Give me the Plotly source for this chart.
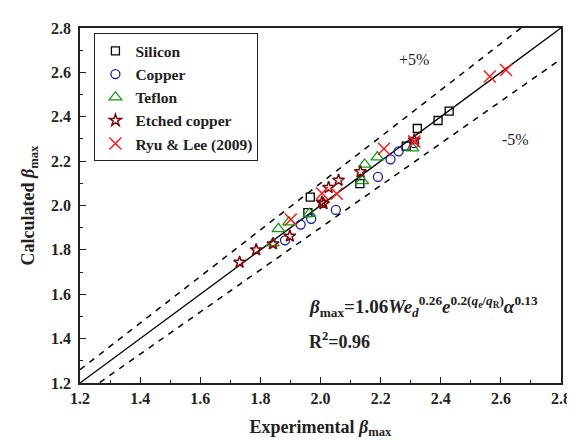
import plotly.graph_objects as go

# Data
silicon_x = [1.966, 1.958, 2.131, 2.285, 2.322, 2.391, 2.428]
silicon_y = [2.038, 1.968, 2.099, 2.268, 2.347, 2.383, 2.425]

copper_x = [1.882, 1.934, 1.969, 2.051, 2.191, 2.233, 2.260, 2.312]
copper_y = [1.843, 1.914, 1.940, 1.980, 2.129, 2.208, 2.244, 2.281]

teflon_x = [1.842, 1.860, 1.895, 1.963, 2.139, 2.147, 2.189, 2.306]
teflon_y = [1.830, 1.895, 1.925, 1.963, 2.111, 2.185, 2.218, 2.259]

etched_x = [1.731, 1.786, 1.842, 1.898, 2.005, 2.010, 2.027, 2.060, 2.133, 2.312]
etched_y = [1.744, 1.800, 1.827, 1.862, 2.015, 2.008, 2.081, 2.114, 2.152, 2.295]

ryu_x = [1.901, 2.005, 2.054, 2.211, 2.312, 2.563, 2.617]
ryu_y = [1.937, 2.055, 2.053, 2.256, 2.289, 2.581, 2.611]

line_x = [1.2, 2.8]
plus_factor = 1.05
minus_factor = 0.95

FONT = "Liberation Serif"
INK = "#222"

fig = go.Figure()

# reference lines
fig.add_trace(go.Scatter(x=line_x, y=line_x, mode="lines",
                         line=dict(color="black", width=1.3), showlegend=False, hoverinfo="skip"))
fig.add_trace(go.Scatter(x=line_x, y=[v * plus_factor for v in line_x], mode="lines",
                         line=dict(color="black", width=1.5, dash="6px,6px"), showlegend=False, hoverinfo="skip"))
fig.add_trace(go.Scatter(x=line_x, y=[v * minus_factor for v in line_x], mode="lines",
                         line=dict(color="black", width=1.5, dash="6px,6px"), showlegend=False, hoverinfo="skip"))

fig.add_trace(go.Scatter(x=silicon_x, y=silicon_y, mode="markers", name="Silicon",
                         marker=dict(symbol="square-open", size=8, color="black", line=dict(width=1.3))))
fig.add_trace(go.Scatter(x=copper_x, y=copper_y, mode="markers", name="Copper",
                         marker=dict(symbol="circle-open", size=9, color="#1c1ca0", line=dict(width=1.3))))
fig.add_trace(go.Scatter(x=teflon_x, y=teflon_y, mode="markers", name="Teflon",
                         marker=dict(symbol="triangle-up-open", size=11, color="#119a11", line=dict(width=1.3))))
fig.add_trace(go.Scatter(x=etched_x, y=etched_y, mode="markers", name="Etched copper",
                         marker=dict(symbol="star-open", size=9, color="#7a0a0a", line=dict(width=1.5))))
fig.add_trace(go.Scatter(x=ryu_x, y=ryu_y, mode="markers", name="Ryu &amp; Lee (2009)",
                         marker=dict(symbol="x-thin-open", size=12, color="#ff1a1a", line=dict(width=1.5, color="#ff1a1a"))))

axis_common = dict(
    range=[1.2, 2.8], dtick=0.2, tick0=1.2, tickformat=".1f",
    showgrid=False, zeroline=False,
    showline=True, linecolor=INK, linewidth=1.5, mirror=True,
    ticks="inside", ticklen=6, tickwidth=1.2, tickcolor=INK,
    minor=dict(ticks="inside", ticklen=3, dtick=0.1, tickcolor=INK, tickwidth=1),
    tickfont=dict(family=FONT, size=16, color=INK, weight="bold"),
)

fig.update_xaxes(**axis_common,
                 title=dict(text="<b>Experimental <i>β</i><sub>max</sub></b>",
                            font=dict(family=FONT, size=18, color=INK), standoff=14))
fig.update_yaxes(**axis_common, ticklabelstandoff=4,
                 title=dict(text="<b>Calculated <i>β</i><sub>max</sub></b>",
                            font=dict(family=FONT, size=18, color=INK), standoff=12))

fig.add_annotation(x=2.312, y=2.658, text="+5%", showarrow=False,
                   font=dict(family=FONT, size=16, color=INK))
fig.add_annotation(x=2.647, y=2.298, text="-5%", showarrow=False,
                   font=dict(family=FONT, size=16, color=INK))
fig.add_annotation(x=1.955, y=1.547, xanchor="left", showarrow=False,
                   text="<b><i>β</i><sub>max</sub>=1.06<i>We</i><sub><i>d</i></sub><sup>0.26</sup>"
                        "<i>e</i><sup>0.2(<i>q</i><sub>e</sub>/<i>q</i><sub>R</sub>)</sup>"
                        "<i>α</i><sup>0.13</sup></b>",
                   font=dict(family=FONT, size=19, color=INK))
fig.add_annotation(x=1.955, y=1.39, xanchor="left", showarrow=False,
                   text="<b>R<sup>2</sup>=0.96</b>",
                   font=dict(family=FONT, size=18, color=INK))

fig.update_layout(
    width=575, height=441,
    margin=dict(l=72, r=16, t=15, b=66),
    plot_bgcolor="white", paper_bgcolor="white",
    legend=dict(x=0.03, y=0.985, xanchor="left", yanchor="top",
                bordercolor=INK, borderwidth=1, bgcolor="white",
                font=dict(family=FONT, size=15.5, color=INK, weight="bold"),
                tracegroupgap=0, itemwidth=30),
)

fig.write_html("out.html")
